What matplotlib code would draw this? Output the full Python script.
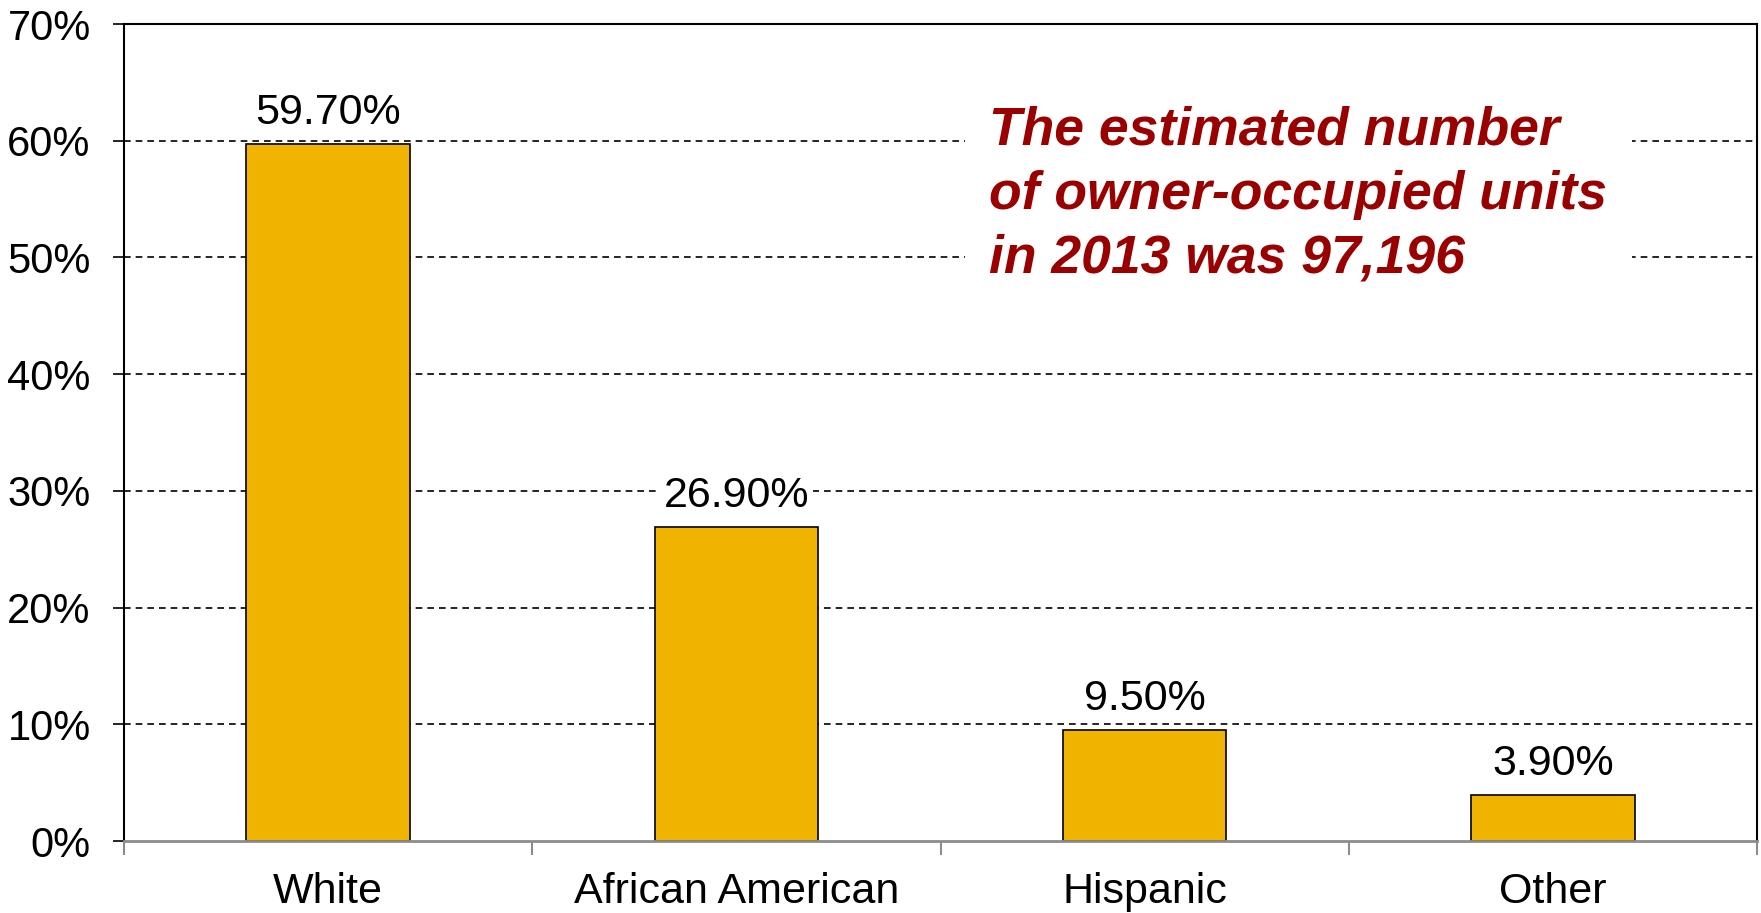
import matplotlib.pyplot as plt
from matplotlib.ticker import FixedLocator, FuncFormatter

categories = ["White", "African American", "Hispanic", "Other"]
shares = [59.7, 26.9, 9.5, 3.9]
y_ticks = [0, 10, 20, 30, 40, 50, 60, 70]
note = "The estimated number\nof owner-occupied units\nin 2013 was 97,196"

plt.rcParams["font.family"] = ["Liberation Sans", "DejaVu Sans"]

bar_color = "#F0B400"
note_color = "#990000"
axis_grey = "#8C8C8C"


def main():
    fig = plt.figure(figsize=(17.61, 9.13), dpi=100)
    ax = fig.add_axes([124 / 1761, 72 / 913, 1633 / 1761, 817 / 913])

    x = list(range(len(categories)))
    bars = ax.bar(x, shares, width=0.4, color=bar_color, edgecolor="black",
                  linewidth=1.2, zorder=3)
    for rect, val in zip(bars, shares):
        ax.annotate(f"{val:.2f}%", (rect.get_x() + rect.get_width() / 2, val),
                    xytext=(0, 8), textcoords="offset points",
                    ha="center", va="bottom", fontsize=31, zorder=4,
                    bbox=dict(boxstyle="square,pad=0.1", fc="white", ec="none"))

    ax.set_xlim(-0.5, len(categories) - 0.5)
    ax.set_ylim(0, 70)
    ax.set_yticks(y_ticks)
    ax.yaxis.set_major_formatter(FuncFormatter(lambda v, p: f"{v:.0f}%"))
    ax.tick_params(axis="y", direction="out", length=8, width=1.2,
                   color="black", labelsize=30, pad=16)

    ax.set_xticks(x)
    ax.set_xticklabels(categories)
    ax.xaxis.set_minor_locator(FixedLocator([i - 0.5 for i in range(len(categories) + 1)]))
    ax.tick_params(axis="x", which="major", length=0, labelsize=31, pad=22)
    ax.tick_params(axis="x", which="minor", direction="out", length=10,
                   width=1.5, color=axis_grey)

    for g in y_ticks[1:-1]:
        ax.axhline(g, color="black", linewidth=1.2, linestyle=(0, (4, 3)), zorder=1)

    for side in ["left", "top", "right"]:
        ax.spines[side].set_color("black")
        ax.spines[side].set_linewidth(1.5)
    ax.spines["bottom"].set_color(axis_grey)
    ax.spines["bottom"].set_linewidth(2)
    ax.spines["bottom"].set_zorder(4)

    ax.text(0.530, 0.900, note, transform=ax.transAxes, ha="left", va="top",
            fontsize=38.5, fontweight="bold", fontstyle="italic", color=note_color,
            linespacing=1.36, zorder=5,
            bbox=dict(boxstyle="square,pad=0.45", fc="white", ec="none"))

    plt.savefig("out.png", dpi=100)


if __name__ == "__main__":
    main()
